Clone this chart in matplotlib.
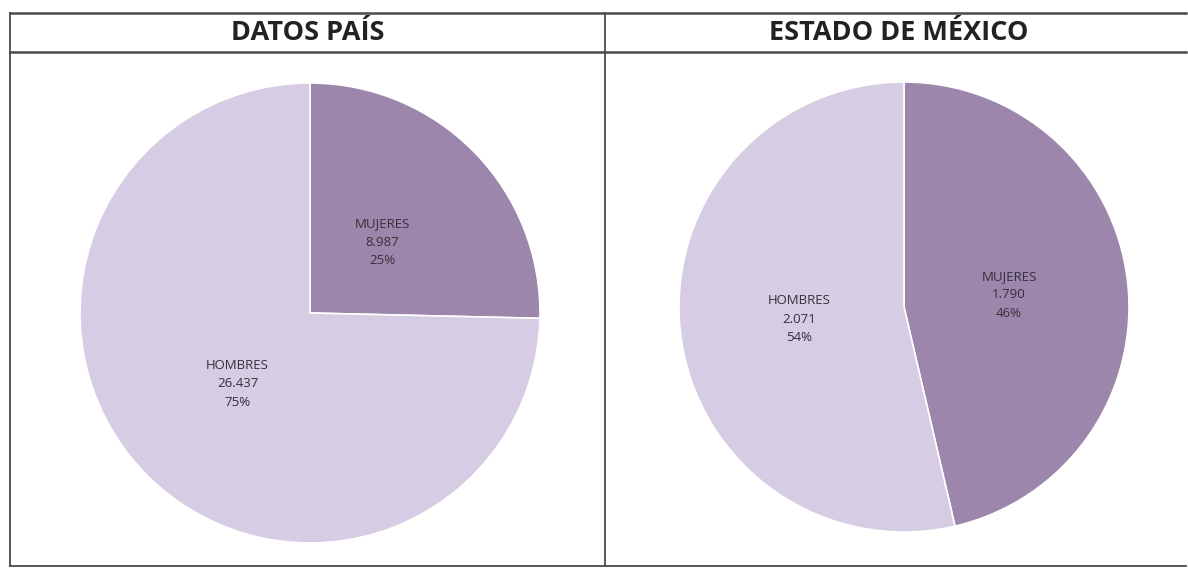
import matplotlib
matplotlib.use("Agg")
import matplotlib.pyplot as plt
from matplotlib.lines import Line2D

W, H = 1188, 571

panels = ["DATOS PAÍS", "ESTADO DE MÉXICO"]
categories = ["MUJERES", "HOMBRES"]
pais_values = [8987, 26437]
pais_labels = ["8.987", "26.437"]
edomex_values = [1790, 2071]
edomex_labels = ["1.790", "2.071"]

colors = ["#9d86ab", "#d6cce3"]

fig = plt.figure(figsize=(W / 100, H / 100), dpi=100)
fig.patch.set_facecolor("white")


def px_axes(cx, cy, r):
    # axes in pixel coords (top-left origin) -> figure fraction
    return fig.add_axes([(cx - r) / W, 1 - (cy + r) / H, 2 * r / W, 2 * r / H])


def draw_pie(ax, values, nums, label_dist):
    total = sum(values)
    texts = []
    for cat, v, n in zip(categories, values, nums):
        texts.append(f"{cat}\n{n}\n{round(100 * v / total)}%")
    wedges, lbls = ax.pie(values, colors=colors, startangle=90, counterclock=False,
                          labels=texts, labeldistance=label_dist,
                          wedgeprops=dict(edgecolor="white", linewidth=1.2),
                          textprops=dict(fontsize=9.5, color="#35303a", family="Open Sans",
                                         linespacing=1.55))
    for t in lbls:
        t.set_ha("center")
        t.set_va("center")
    ax.set_xlim(-1, 1)
    ax.set_ylim(-1, 1)
    ax.set_aspect("equal")
    ax.axis("off")
    return wedges, lbls


ax1 = px_axes(310, 313, 230)
draw_pie(ax1, pais_values, pais_labels, 0.44)
ax2 = px_axes(904, 307, 225)
draw_pie(ax2, edomex_values, edomex_labels, 0.47)

# table frame
lc = "#4a4a4a"
for x0, y0, x1, y1, lw in [(10, 13, 1186, 13, 1.8), (10, 52, 1186, 52, 1.8),
                           (10, 13, 10, 566, 1.3), (605, 13, 605, 566, 1.3),
                           (10, 566, 1186, 566, 1.3)]:
    fig.add_artist(Line2D([x0 / W, x1 / W], [1 - y0 / H, 1 - y1 / H],
                          color=lc, linewidth=lw, transform=fig.transFigure))

fig.text(308 / W, 1 - 33 / H, panels[0], ha="center", va="center",
         fontsize=19.5, fontweight="bold", family="Open Sans", color="#222222")
fig.text(899 / W, 1 - 33 / H, panels[1], ha="center", va="center",
         fontsize=19.5, fontweight="bold", family="Open Sans", color="#222222")

fig.savefig("out.png", dpi=100, facecolor="white")
